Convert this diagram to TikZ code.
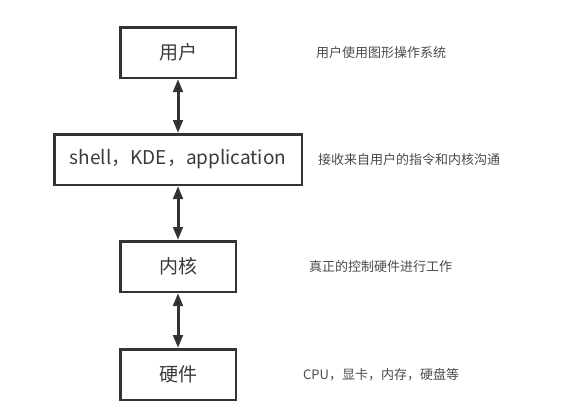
\documentclass[tikz,border=0pt]{standalone}
\usepackage{fontspec}
\setmainfont{Noto Sans CJK SC}
\usepackage{xcolor}
\usetikzlibrary{positioning,arrows.meta}
\definecolor{boxline}{HTML}{333333}
\definecolor{boxtext}{HTML}{3A3A3A}
\definecolor{notetext}{HTML}{4A4A4A}

\begin{document}
\begin{tikzpicture}[x=1pt, y=1pt, <->, >={Triangle[length=13pt,width=9.5pt]}, node distance = 54pt,
    layer/.style={rectangle, draw=boxline, line width=2.5pt, minimum width=115.5pt, minimum height=50.5pt, text=boxtext, font=\fontsize{19}{22}\selectfont},
    note/.style={text=notetext, font=\fontsize{13}{15}\selectfont, inner sep=0pt}]
        \useasboundingbox (0,0) rectangle (567,-416);
        \node[layer] (user) at (178,-52.5) {用户};
        \node[layer, minimum width=247.5pt] (shell) [below=of user] {shell，KDE，application};
        \node[layer] (kernel) [below=of shell] {内核};
        \node[layer] (hardware) [below=55pt of kernel] {硬件};

        \node[note] (usernote) [right=79pt of user] {用户使用图形操作系统};
        \node[note] (shellnote) [right=15pt of shell] {接收来自用户的指令和内核沟通};
        \node[note] (kernelnote) [right=72pt of kernel] {真正的控制硬件进行工作};
        \node[note] (hardwarenote) [right=66pt of hardware] {CPU，显卡，内存，硬盘等};

        \path[draw=boxline, line width=3pt] (user) edge [] (shell)
            (shell) edge [] (kernel)
            (kernel) edge [] (hardware);
    \end{tikzpicture}
\end{document}
